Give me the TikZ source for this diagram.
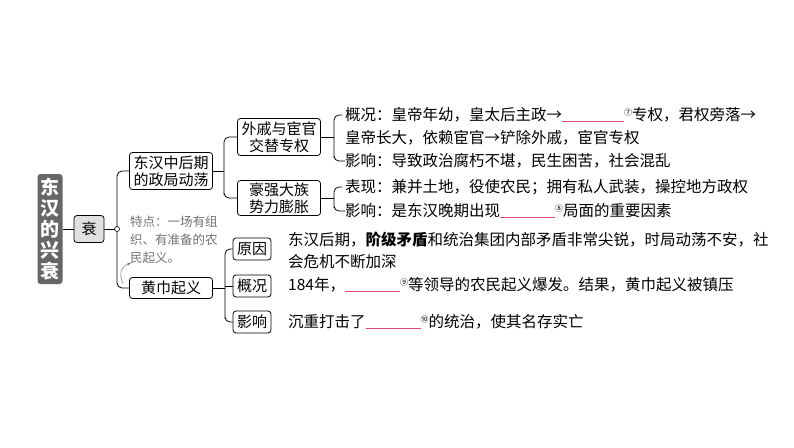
\documentclass[tikz,border=0pt]{standalone}
\usepackage{fontspec}
\setmainfont{Noto Sans CJK SC}
\usetikzlibrary{arrows.meta}
\definecolor{blk}{HTML}{E0457B}
\newcommand{\blank}[1]{\textcolor{blk}{\rule[-1.5pt]{#1pt}{0.9pt}}}
\newcommand{\mk}[1]{\raisebox{5pt}{\fontsize{8}{8}\selectfont #1}}
\begin{document}
\begin{tikzpicture}[x=1pt,y=-1pt,
  bx/.style={draw,rounded corners=3pt,line width=0.8pt,inner sep=1pt,font=\fontsize{15}{17}\selectfont,align=center},
  tx/.style={anchor=west,inner sep=0pt,font=\fontsize{15.5}{18}\selectfont},
  ln/.style={line width=0.8pt,rounded corners=5pt}]
\useasboundingbox (0,0) rectangle (794,447);
\node[fill=black!60,rounded corners=3pt,text=white,minimum width=25pt,minimum height=110pt,align=center,font=\bfseries\fontsize{19}{21}\selectfont,inner sep=0pt] (t) at (50,229) {东\\汉\\的\\兴\\衰};
\node[bx,fill=black!12,minimum width=30pt,minimum height=27pt] (s) at (89,229) {衰};
\draw[ln] (t.east) -- (s.west);
\coordinate (c) at (117,229);
\draw[ln] (s.east) -- (c);
\draw[fill=white,line width=0.6pt] (c) circle (2.5pt);
\node[bx,minimum width=83pt,minimum height=37pt] (a) at (171,171) {东汉中后期\\的政局动荡};
\node[bx,minimum width=83pt,minimum height=21pt] (b) at (171,288) {黄巾起义};
\draw[ln] (a.west) -| (117,226.5);
\draw[ln] (b.west) -| (117,231.5);
\node[anchor=north west,text=black!55,align=left,font=\fontsize{12.5}{18}\selectfont,inner sep=0pt] (n) at (130,216) {特点：一场有组\\织、有准备的农\\民起义。};
\draw[-{Stealth[length=4pt]},black!55,line width=0.5pt] (123,284) .. controls (118,272) and (122,266) .. (131,263);
% upper branch
\node[bx,minimum width=83pt,minimum height=37pt] (a1) at (279,137) {外戚与宦官\\交替专权};
\node[bx,minimum width=83pt,minimum height=35pt] (a2) at (279,198) {豪强大族\\势力膨胀};
\draw[ln] (a.east) -- (224,171);
\draw[ln] (a1.west) -| (224,198) |- (a2.west);
\node[tx] (p1) at (345,115) {概况：皇帝年幼，皇太后主政→\blank{62}\mk{⑦}专权，君权旁落→};
\node[tx] (p2) at (345,138) {皇帝长大，依赖宦官→铲除外戚，宦官专权};
\node[tx] (p3) at (345,161) {影响：导致政治腐朽不堪，民生困苦，社会混乱};
\draw[ln] (a1.east) -- (334,137);
\draw[ln] (p1.west) ++(-3,0) -| (334,161) |- (p3.west);
\node[tx] (q1) at (345,187) {表现：兼并土地，役使农民；拥有私人武装，操控地方政权};
\node[tx] (q2) at (345,211) {影响：是东汉晚期出现\blank{55}\mk{⑧}局面的重要因素};
\draw[ln] (a2.east) -- (334,198);
\draw[ln] (q1.west) ++(-3,0) -| (334,211) |- (q2.west);
% lower branch
\node[bx,minimum width=38pt,minimum height=22pt] (b1) at (252,249) {原因};
\node[bx,minimum width=38pt,minimum height=22pt] (b2) at (252,286) {概况};
\node[bx,minimum width=38pt,minimum height=22pt] (b3) at (252,322) {影响};
\draw[ln] (b.east) -- (225,288);
\draw[ln] (b1.west) -| (225,322) |- (b3.west);
\draw[ln] (225,286) -- (b2.west);
\node[tx] (r1) at (288,240) {东汉后期，\textbf{阶级矛盾}和统治集团内部矛盾非常尖锐，时局动荡不安，社};
\node[tx] (r2) at (288,262) {会危机不断加深};
\node[tx] (r3) at (288,285) {184年，\blank{55}\mk{⑨}等领导的农民起义爆发。结果，黄巾起义被镇压};
\node[tx] (r4) at (288,322) {沉重打击了\blank{55}\mk{⑩}的统治，使其名存实亡};
\end{tikzpicture}
\end{document}
